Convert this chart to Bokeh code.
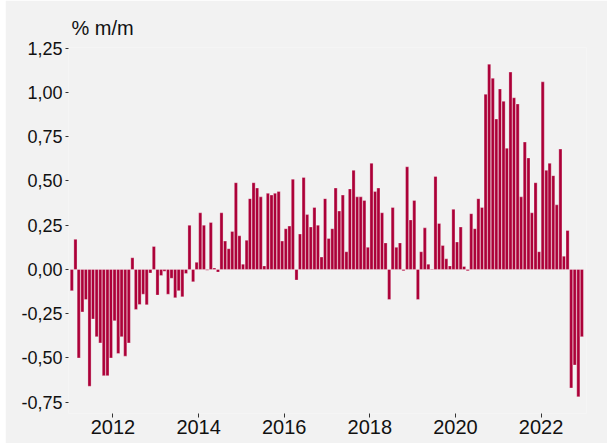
import pandas as pd
from bokeh.plotting import figure
from bokeh.models import ColumnDataSource, Range1d, FixedTicker, DatetimeTickFormatter
from bokeh.embed import file_html
from bokeh.resources import INLINE

# ---- data (monthly change, % m/m), Jan 2011 .. Dec 2022 ----
start_month = "2011-01-01"
values = [
    # 2011
    -0.12, 0.17, -0.50, -0.24, -0.17, -0.66, -0.28, -0.38, -0.415, -0.60, -0.60, -0.50,
    # 2012
    -0.29, -0.475, -0.38, -0.49, -0.415, 0.066, -0.226, -0.198, -0.14, -0.20, -0.02, 0.13,
    # 2013
    -0.145, -0.034, -0.01, -0.14, -0.05, -0.16, -0.12, -0.155, -0.023, 0.25, -0.07, 0.04,
    # 2014
    0.32, 0.25, -0.005, 0.265, 0.008, -0.015, 0.32, 0.16, 0.117, 0.215, 0.49, 0.19,
    # 2015
    0.03, 0.165, 0.40, 0.49, 0.46, 0.41, 0.02, 0.43, 0.42, 0.43, 0.44, 0.16,
    # 2016
    0.23, 0.245, 0.51, -0.06, 0.20, 0.52, 0.31, 0.24, 0.35, 0.25, 0.07, 0.40,
    # 2017
    0.175, 0.23, 0.46, 0.33, 0.42, 0.10, 0.455, 0.56, 0.41, 0.41, 0.39, 0.125,
    # 2018
    0.60, 0.44, 0.46, 0.32, 0.15, -0.17, 0.35, 0.125, 0.15, -0.008, 0.58, 0.28,
    # 2019
    0.39, -0.17, 0.10, 0.235, 0.03, -0.003, 0.525, 0.26, 0.135, 0.06, 0.02, 0.34,
    # 2020
    0.155, 0.24, 0.017, -0.008, 0.315, 0.23, 0.40, 0.35, 0.99, 1.16, 1.08, 0.85,
    # 2021
    1.02, 0.95, 0.685, 1.115, 0.97, 0.935, 0.41, 0.72, 0.63, 0.32, 0.49, 0.10,
    # 2022
    1.06, 0.56, 0.60, 0.53, 0.365, 0.68, 0.075, 0.22, -0.67, -0.54, -0.72, -0.38,
]
ytick_values = [-0.75, -0.50, -0.25, 0.0, 0.25, 0.50, 0.75, 1.00, 1.25]
ytick_labels = ["-0,75", "-0,50", "-0,25", "0,00", "0,25", "0,50", "0,75", "1,00", "1,25"]
xtick_years = [2012, 2014, 2016, 2018, 2020, 2022]
unit_label = "% m/m"

# ---- build ----
month_starts = pd.date_range(start_month, periods=len(values), freq="MS")
centers = month_starts + pd.Timedelta(days=14)
month_ms = 30.44 * 24 * 3600 * 1000

src = ColumnDataSource(dict(x=centers, top=values))

x_start = centers[0].value / 1e6 - 0.93 * month_ms
x_end = x_start + 145.2 * month_ms
y_start, y_end = -0.814, 1.254

BG = "#f2f2f2"
FONT = "Liberation Sans"

p = figure(width=602, height=443, x_axis_type="datetime",
           x_range=Range1d(x_start, x_end), y_range=Range1d(y_start, y_end),
           output_backend="svg", toolbar_location=None,
           background_fill_color=BG, border_fill_color=BG,
           min_border_left=63, min_border_right=21, min_border_top=47, min_border_bottom=30)
p.margin = (0, 0, 0, 5)
p.outline_line_color = None
p.grid.visible = False

p.title.text = unit_label
p.title.align = "left"
p.title.offset = 3
p.title.standoff = 18
p.title.text_font = FONT
p.title.text_font_size = "20px"
p.title.text_font_style = "normal"
p.title.text_color = "#111111"

p.vbar(x="x", top="top", bottom=0, width=0.88 * month_ms, source=src,
       fill_color="#ac0038", line_color="white", line_alpha=0.5, line_width=0.6)

# y axis
p.yaxis.ticker = FixedTicker(ticks=ytick_values)
p.yaxis.major_label_overrides = {v: l for v, l in zip(ytick_values, ytick_labels)}
p.yaxis.axis_line_color = None
p.yaxis.major_tick_in = 0
p.yaxis.major_tick_out = 3
p.yaxis.minor_tick_line_color = None
p.yaxis.major_tick_line_color = "#333333"
p.yaxis.major_label_standoff = 3
p.yaxis.major_label_text_font = FONT
p.yaxis.major_label_text_font_size = "18px"
p.yaxis.major_label_text_color = "#111111"

# x axis
xticks = [pd.Timestamp(f"{y}-01-01").value / 1e6 for y in xtick_years]
p.xaxis.ticker = FixedTicker(ticks=xticks)
p.xaxis.formatter = DatetimeTickFormatter(years="%Y", months="%Y", days="%Y", hours="%Y",
                                          minutes="%Y", seconds="%Y", milliseconds="%Y",
                                          microseconds="%Y", hourmin="%Y", minsec="%Y")
p.xaxis.axis_line_color = None
p.xaxis.major_tick_in = 0
p.xaxis.major_tick_out = 4
p.xaxis.minor_tick_line_color = None
p.xaxis.major_tick_line_color = "#333333"
p.xaxis.major_label_standoff = 2
p.xaxis.major_label_text_font = FONT
p.xaxis.major_label_text_font_size = "20px"
p.xaxis.major_label_text_color = "#111111"

open("out.html", "w").write(file_html(p, INLINE))
